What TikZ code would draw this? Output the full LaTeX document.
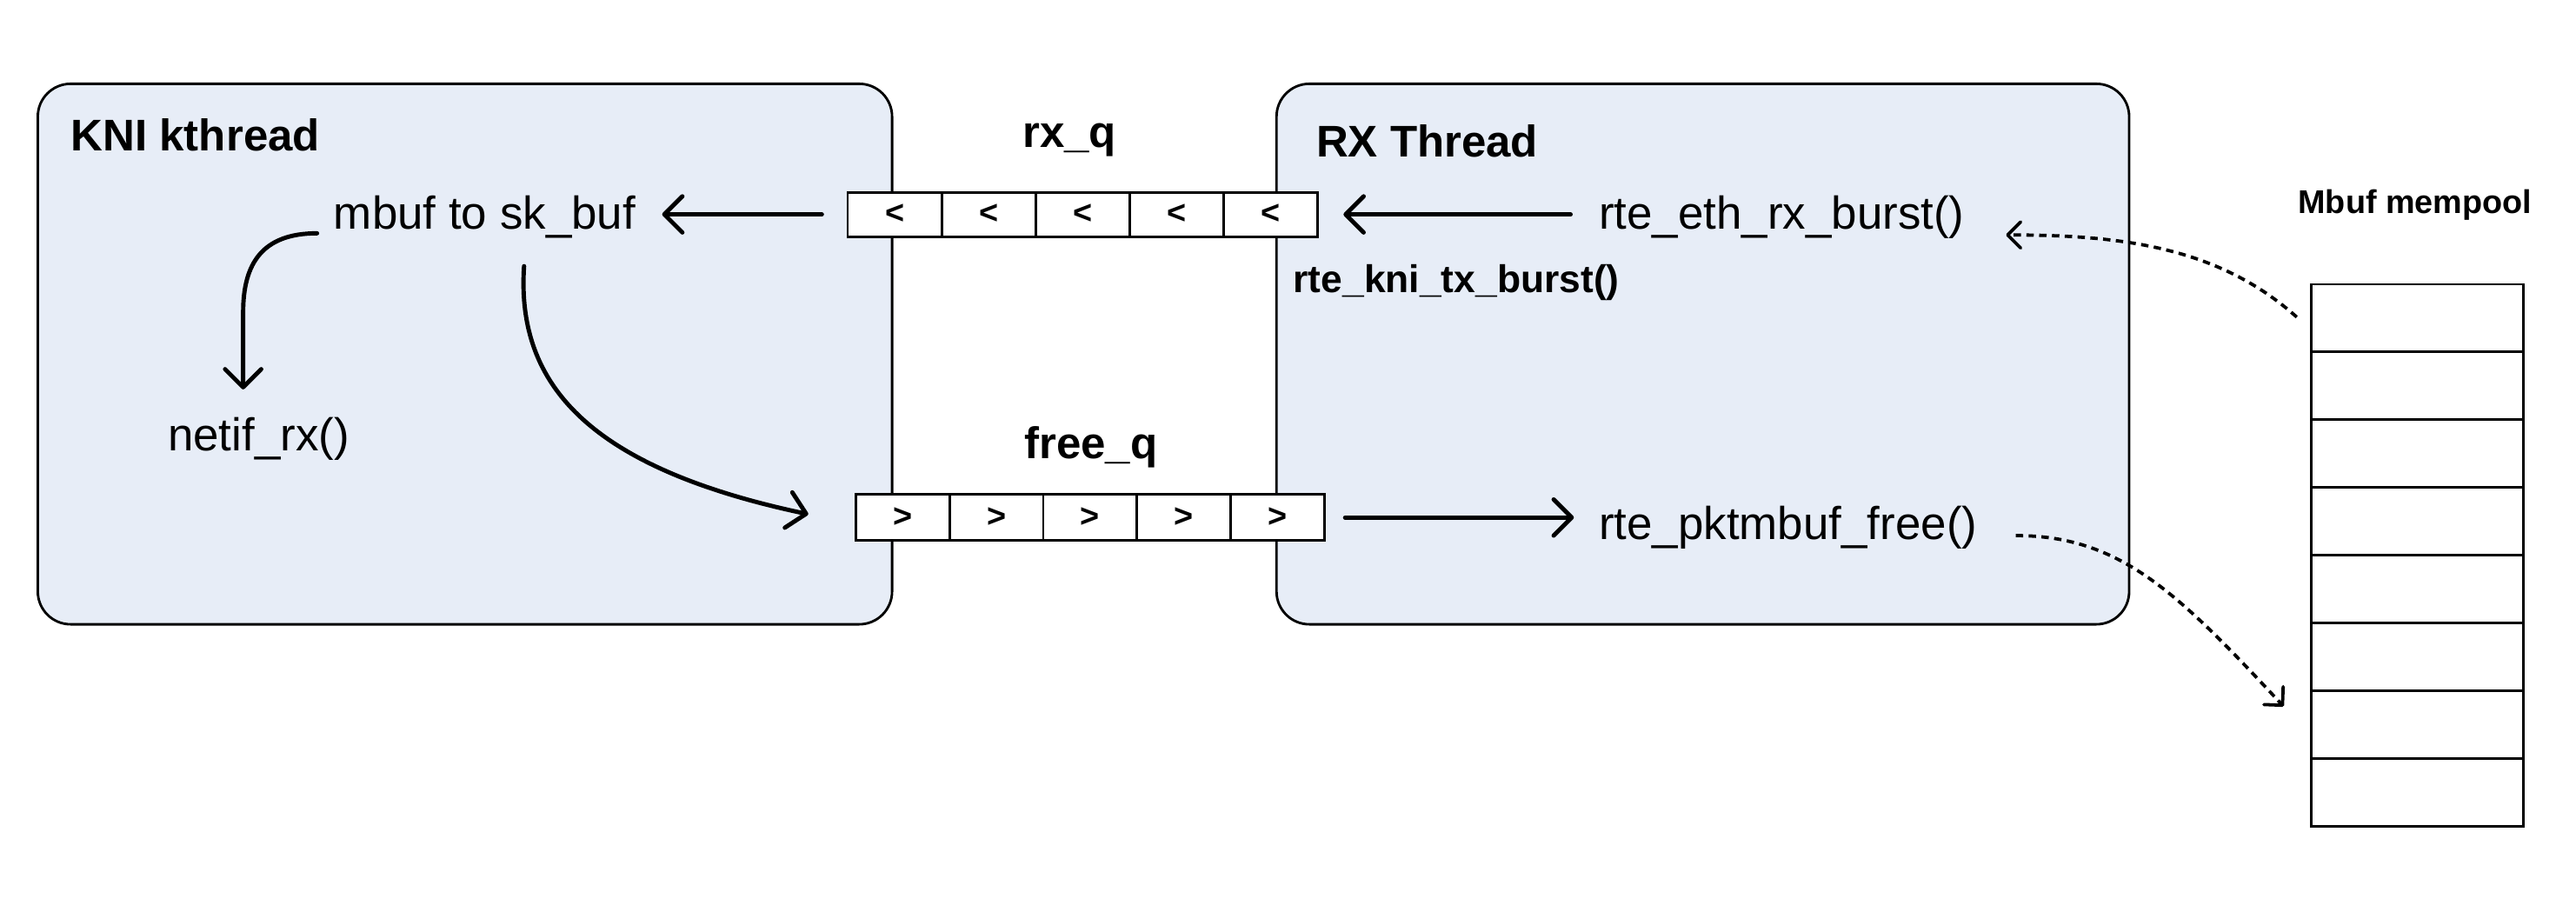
\documentclass[tikz,border=0pt]{standalone}
\usepackage{fontspec}
\setmainfont{Liberation Sans}
\usetikzlibrary{arrows.meta}
\definecolor{boxfill}{RGB}{231,237,247}
\begin{document}
\begin{tikzpicture}[x=1pt,y=-1pt,
  thread/.style={draw=black, line width=1.5pt, fill=boxfill, rounded corners=20pt},
  lbl/.style={inner sep=0pt, anchor=west, font=\fontsize{28}{32}\selectfont},
  title/.style={inner sep=0pt, font=\bfseries\fontsize{27}{30}\selectfont},
  cell/.style={draw=black, line width=1.5pt, fill=white, minimum height=27pt, inner sep=0pt, font=\bfseries\fontsize{20}{22}\selectfont},
  poolcell/.style={draw=black, line width=1.5pt, fill=white, minimum width=129pt, minimum height=41.25pt, inner sep=0pt},
  flow/.style={line width=2.6pt, line cap=round, -{Straight Barb[length=11pt,width=22pt,line cap=round,round]}},
  dflow/.style={line width=2pt, dash pattern=on 4.5pt off 3.3pt, -{Straight Barb[length=8pt,width=16pt,round]}}
]
\path[use as bounding box] (0,0) rectangle (1568,555);
\draw[thread] (23,51) rectangle (543,380);
\draw[thread] (777,51) rectangle (1296,380);

\node[title, anchor=west] (kni) at (43,82) {KNI kthread};
\node[title, anchor=west] (rxt) at (801,86) {RX Thread};
\node[title] (rxqlbl) at (651,85) {rx\_q};
\node[title] (freeqlbl) at (664,272) {free\_q};

\foreach \i in {1,...,5} {
  \node[cell, minimum width=57.2pt] (rxq\i) at ({516+57.2*(\i-0.5)},130.5) {<};
  \node[cell, minimum width=57pt, minimum height=28pt] (fq\i) at ({521+57*(\i-0.5)},315) {>};
}

\node[lbl] (mbuf) at (203,132) {mbuf to sk\_buf};
\node[lbl] (netif) at (102,267) {netif\_rx()};
\node[lbl] (ethrx) at (973,132) {rte\_eth\_rx\_burst()};
\node[lbl] (pktfree) at (973,321) {rte\_pktmbuf\_free()};
\node[title, anchor=west, font=\bfseries\fontsize{23.5}{26}\selectfont] (knitx) at (787,172) {rte\_kni\_tx\_burst()};

\node[title, font=\bfseries\fontsize{20}{24}\selectfont] (mplbl) at (1470,125) {Mbuf mempool};
\foreach \i in {1,...,8} {
  \node[poolcell] (mp\i) at (1471.5,{173+41.25*(\i-0.5)}) {};
}

\coordinate (netifin) at (148,237);
\coordinate (mbufout) at (319,162);
\coordinate (fqin) at (492,313);
\coordinate (mpout) at (1398,193);
\coordinate (mpin) at (1390,430);
\coordinate (ethin) at (1221,143);
\coordinate (freeout) at (1227,326);

\draw[flow] ([xshift=-15pt]rxq1.west) -- ([xshift=16pt]mbuf.east |- rxq1.west);
\draw[flow] ([xshift=-17pt]ethrx.west |- rxq5.east) -- ([xshift=15pt]rxq5.east);
\draw[flow] ([xshift=12pt]fq5.east) -- ([xshift=-15pt]pktfree.west |- fq5.east);
\draw[flow] ([shift={(-10pt,-10pt)}]mbuf.west) .. controls (160,142) and (148,160) .. (148,190) -- (netifin);
\draw[flow] (mbufout) .. controls (314,235) and (360,285) .. (fqin);
\draw[dflow] (mpout) .. controls (1350,150) and (1290,143) .. (ethin);
\draw[dflow] (freeout) .. controls (1290,326) and (1325,360) .. (mpin);
\end{tikzpicture}
\end{document}
